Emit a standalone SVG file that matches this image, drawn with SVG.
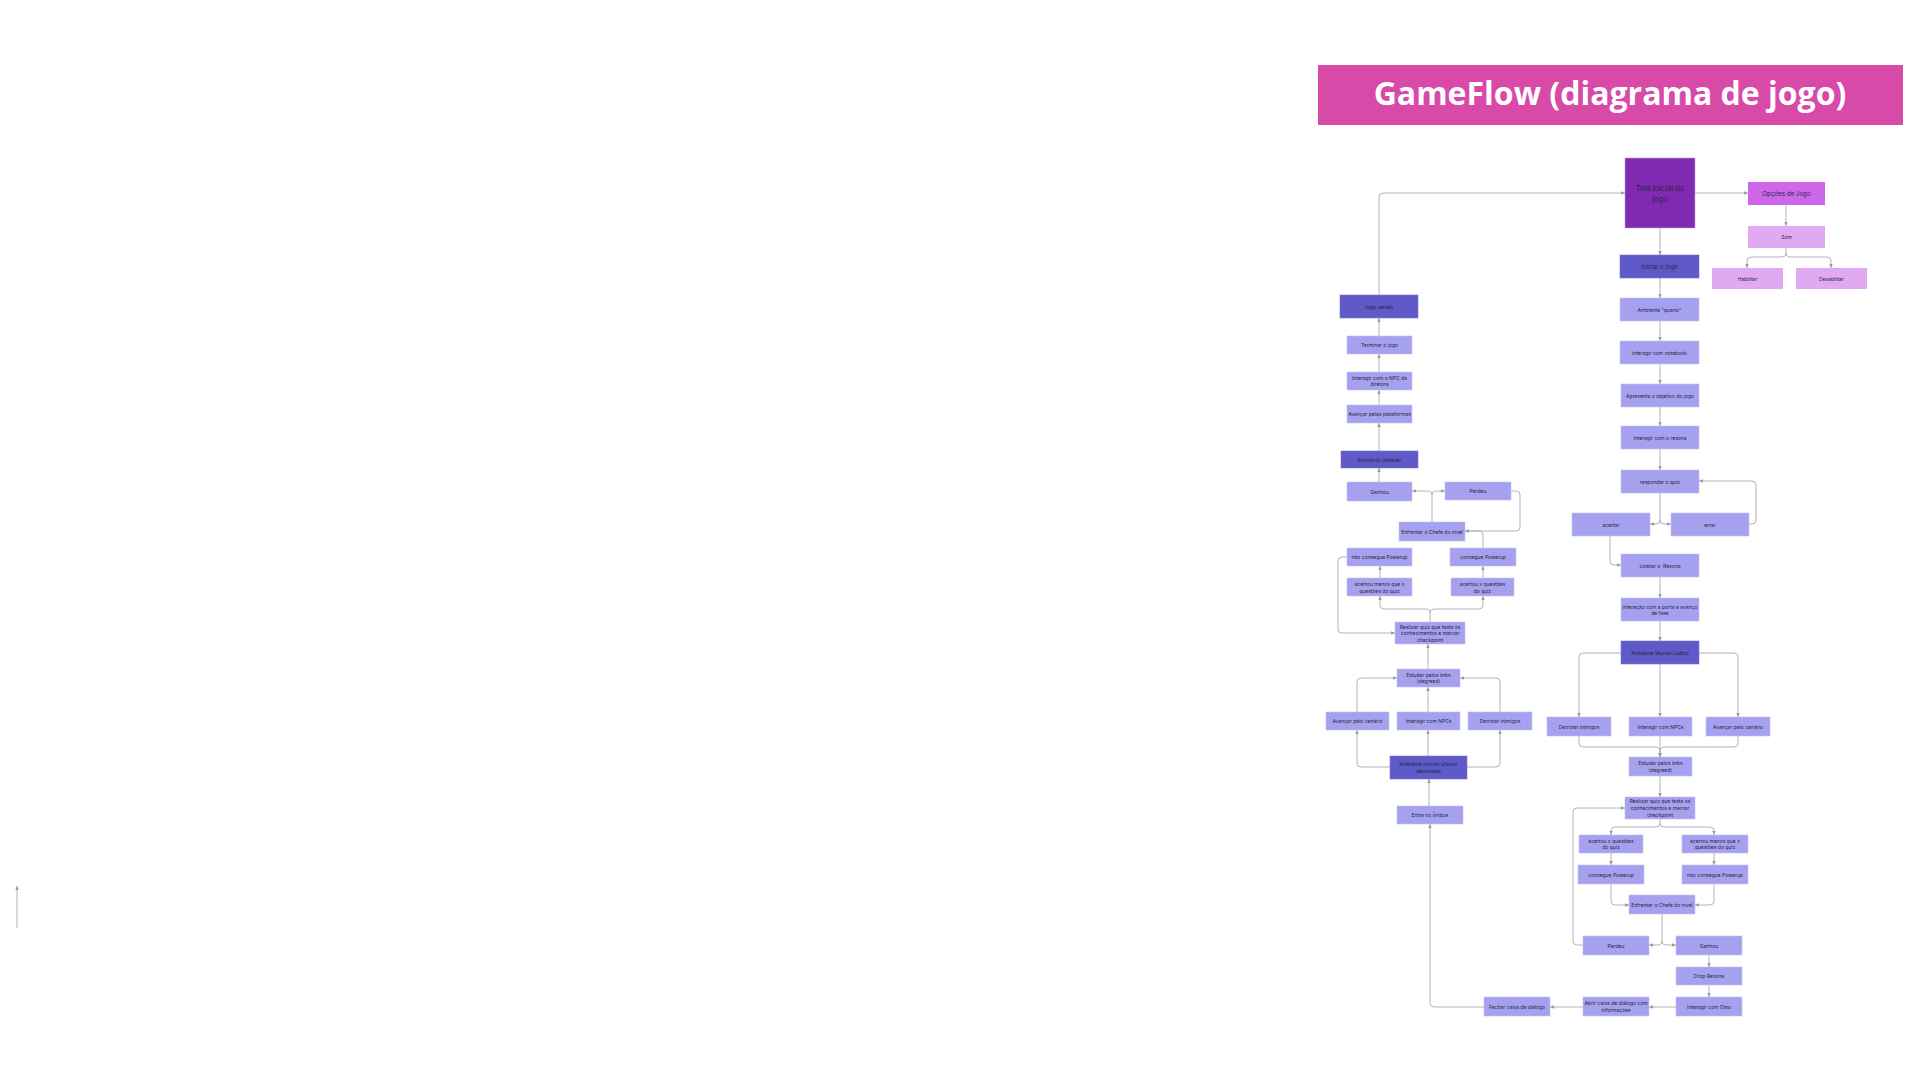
<svg xmlns="http://www.w3.org/2000/svg" width="1920" height="1080" viewBox="0 0 1920 1080">
<style>
text{font-family:Inter,"Liberation Sans",sans-serif;fill:#26263d;font-size:5px;text-anchor:middle;dominant-baseline:central}
.l{fill:#a6a1ef;stroke:#c3c0f6;stroke-width:0.6}
.d{fill:#5f5ac7;stroke:#7a76d4;stroke-width:0.6}
.p{fill:#7f2ab0;stroke:#c9a3e6;stroke-width:0.6}
.m{fill:#cd66e9}
.s{fill:#e2a9f3}
.c path{fill:none;stroke:#b4b4b4;stroke-width:1;marker-end:url(#ah)}
.title{font-family:"Open Sans","Noto Sans",sans-serif;font-weight:700;font-size:32px;fill:#ffffff;dominant-baseline:auto}
</style>
<defs>
<marker id="ah" viewBox="0 0 6 6" refX="6" refY="3" markerWidth="4" markerHeight="4" orient="auto" markerUnits="userSpaceOnUse"><path d="M0,0.5 L6,3 L0,5.5 z" fill="#9a9a9a"/></marker>
</defs>
<rect width="1920" height="1080" fill="#ffffff"/>
<g id="title"><rect x="1318" y="65" width="585" height="60" fill="#d84aa8"/><text class="title" x="1610" y="105">GameFlow (diagrama de jogo)</text></g>

<g class="c" id="connectors">
<path d="M17,928 V886"/>
<path d="M1379,295 V197 Q1379,193 1383,193 H1625"/>
<path d="M1379,336 V318"/>
<path d="M1379,372 V354"/>
<path d="M1379,405 V390"/>
<path d="M1379,451 V423"/>
<path d="M1379,482 V468"/>
<path d="M1432,522 V495 Q1432,491 1428,491 H1412"/>
<path d="M1432,495 Q1432,491 1436,491 H1445"/>
<path d="M1511,491 H1516 Q1520,491 1520,495 V527 Q1520,531 1516,531 H1465"/>
<path d="M1483,548 V535 Q1483,531 1479,531 H1465"/>
<path d="M1380,578 V566"/>
<path d="M1483,578 V566"/>
<path d="M1430,622 V613 Q1430,609 1426,609 H1384 Q1380,609 1380,605 V596"/>
<path d="M1430,613 Q1430,609 1434,609 H1479 Q1483,609 1483,605 V596"/>
<path d="M1347,557 H1342 Q1338,557 1338,561 V629 Q1338,633 1342,633 H1395"/>
<path d="M1428,669 V644"/>
<path d="M1357,712 V682 Q1357,678 1361,678 H1397"/>
<path d="M1500,712 V682 Q1500,678 1496,678 H1460"/>
<path d="M1428,712 V687"/>
<path d="M1390,767 H1361 Q1357,767 1357,763 V730"/>
<path d="M1467,767 H1496 Q1500,767 1500,763 V730"/>
<path d="M1428,756 V730"/>
<path d="M1429,806 V779"/>
<path d="M1484,1007 H1434 Q1430,1007 1430,1003 V824"/>
<path d="M1660,228 V255"/>
<path d="M1695,193 H1748"/>
<path d="M1786,205 V226"/>
<path d="M1786,248 V253 Q1786,257 1782,257 H1751 Q1747,257 1747,261 V268"/>
<path d="M1786,253 Q1786,257 1790,257 H1827 Q1831,257 1831,261 V268"/>
<path d="M1660,278 V298"/>
<path d="M1660,321 V341"/>
<path d="M1660,364 V384"/>
<path d="M1660,407 V426"/>
<path d="M1660,449 V470"/>
<path d="M1660,493 V520 Q1660,524 1656,524 H1650"/>
<path d="M1660,520 Q1660,524 1664,524 H1671"/>
<path d="M1749,524 H1752 Q1756,524 1756,520 V485 Q1756,481 1752,481 H1699"/>
<path d="M1610,536 V561 Q1610,565 1614,565 H1621"/>
<path d="M1660,577 V598"/>
<path d="M1660,621 V641"/>
<path d="M1621,653 H1583 Q1579,653 1579,657 V717"/>
<path d="M1699,653 H1734 Q1738,653 1738,657 V717"/>
<path d="M1660,664 V717"/>
<path d="M1579,736 V743 Q1579,747 1583,747 H1656 Q1660,747 1660,751 V757"/>
<path d="M1738,736 V743 Q1738,747 1734,747 H1664 Q1660,747 1660,751 V757"/>
<path d="M1660,736 V757"/>
<path d="M1660,776 V797"/>
<path d="M1660,819 V823 Q1660,827 1656,827 H1615 Q1611,827 1611,831 V835"/>
<path d="M1660,823 Q1660,827 1664,827 H1710 Q1714,827 1714,831 V835"/>
<path d="M1611,853 V865"/>
<path d="M1714,853 V865"/>
<path d="M1611,884 V901 Q1611,905 1615,905 H1629"/>
<path d="M1714,884 V901 Q1714,905 1710,905 H1695"/>
<path d="M1662,914 V941 Q1662,945 1658,945 H1649"/>
<path d="M1662,941 Q1662,945 1666,945 H1676"/>
<path d="M1583,945 H1577 Q1573,945 1573,941 V812 Q1573,808 1577,808 H1625"/>
<path d="M1709,955 V967"/>
<path d="M1709,985 V997"/>
<path d="M1676,1007 H1649"/>
<path d="M1583,1007 H1550"/>
</g>

<g id="jogo_zerado"><rect class="d" x="1340" y="295" width="78" height="23"/><text x="1379" y="306.5">Jogo zerado</text></g>
<g id="terminar"><rect class="l" x="1347" y="336" width="65" height="18"/><text x="1379.5" y="345">Terminar o jogo</text></g>
<g id="npc_diretora"><rect class="l" x="1347" y="372" width="65" height="18"/><text x="1379.5" y="378"><tspan x="1379.5">Interagir com o NPC da</tspan><tspan x="1379.5" dy="6">diretora</tspan></text></g>
<g id="avancar_plat"><rect class="l" x="1347" y="405" width="65" height="18"/><text x="1379.5" y="414">Avançar pelas plataformas</text></g>
<g id="escritorio"><rect class="d" x="1341" y="451" width="77" height="17"/><text x="1379.5" y="459.5">Escritório Unilever</text></g>
<g id="ganhou_l"><rect class="l" x="1347" y="482" width="65" height="19"/><text x="1379.5" y="491.5">Ganhou</text></g>
<g id="perdeu_l"><rect class="l" x="1445" y="482" width="66" height="18"/><text x="1478" y="491">Perdeu</text></g>
<g id="enfrentar_l"><rect class="l" x="1399" y="522" width="66" height="19"/><text x="1432" y="531.5">Enfrentar o Chefe do nível</text></g>
<g id="nao_power_l"><rect class="l" x="1347" y="548" width="65" height="18"/><text x="1379.5" y="557">não consegue Powerup</text></g>
<g id="power_l"><rect class="l" x="1450" y="548" width="66" height="18"/><text x="1483" y="557">consegue Powerup</text></g>
<g id="menos_l"><rect class="l" x="1347" y="578" width="65" height="18"/><text x="1379.5" y="584"><tspan x="1379.5">acertou menos que x</tspan><tspan x="1379.5" dy="6.5">questões do quiz</tspan></text></g>
<g id="acertou_l"><rect class="l" x="1451" y="578" width="63" height="18"/><text x="1482.5" y="584"><tspan x="1482.5">acertou x questões</tspan><tspan x="1482.5" dy="6.5">do quiz</tspan></text></g>
<g id="quiz_l"><rect class="l" x="1395" y="622" width="70" height="22"/><text x="1430" y="626.7"><tspan x="1430">Realizar quiz que testa os</tspan><tspan x="1430" dy="6.6">conhecimentos e marcar</tspan><tspan x="1430" dy="6.6">checkpoint</tspan></text></g>
<g id="estudar_l"><rect class="l" x="1397" y="669" width="63" height="18"/><text x="1428.5" y="675"><tspan x="1428.5">Estudar pelos links</tspan><tspan x="1428.5" dy="6.3">(degreed)</tspan></text></g>
<g id="avancar_cen_l"><rect class="l" x="1326" y="712" width="63" height="18"/><text x="1357.5" y="721">Avançar pelo cenário</text></g>
<g id="npcs_l"><rect class="l" x="1397" y="712" width="63" height="18"/><text x="1428.5" y="721">Interagir com NPCs</text></g>
<g id="derrotar_l"><rect class="l" x="1468" y="712" width="64" height="18"/><text x="1500" y="721">Derrotar inimigos</text></g>
<g id="urbano"><rect class="d" x="1390" y="756" width="77" height="23"/><text x="1428.5" y="764"><tspan x="1428.5">Ambiente mundo urbano</tspan><tspan x="1428.5" dy="7">devastado</tspan></text></g>
<g id="onibus"><rect class="l" x="1397" y="806" width="66" height="18"/><text x="1430" y="815">Entra no ônibus</text></g>

<g id="tela"><rect class="p" x="1625" y="158" width="70" height="70"/><text x="1660" y="188.3" style="font-size:7.5px"><tspan x="1660">Tela Inicial do</tspan><tspan x="1660" dy="11">jogo</tspan></text></g>
<g id="opcoes"><rect class="m" x="1748" y="182" width="77" height="23"/><text x="1786.5" y="193.5" style="font-size:6.2px">Opções de Jogo</text></g>
<g id="som"><rect class="s" x="1748" y="226" width="77" height="22"/><text x="1786.5" y="237">Som</text></g>
<g id="habilitar"><rect class="s" x="1712" y="268" width="71" height="21"/><text x="1747.5" y="278.5">Habilitar</text></g>
<g id="desabilitar"><rect class="s" x="1796" y="268" width="71" height="21"/><text x="1831.5" y="278.5">Desabilitar</text></g>
<g id="iniciar"><rect class="d" x="1620" y="255" width="79" height="23"/><text x="1659.5" y="266.5" style="font-size:6px">Iniciar o jogo</text></g>
<g id="quarto"><rect class="l" x="1620" y="298" width="79" height="23"/><text x="1659.5" y="309.5">Ambiente "quarto"</text></g>
<g id="notebook"><rect class="l" x="1620" y="341" width="79" height="23"/><text x="1659.5" y="352.5">interagir com notebook</text></g>
<g id="objetivo"><rect class="l" x="1621" y="384" width="78" height="23"/><text x="1660" y="395.5">Apresenta o objetivo do jogo</text></g>
<g id="resona"><rect class="l" x="1621" y="426" width="78" height="23"/><text x="1660" y="437.5">interagir com o resona</text></g>
<g id="responder"><rect class="l" x="1621" y="470" width="78" height="23"/><text x="1660" y="481.5">responder o quiz</text></g>
<g id="acertar"><rect class="l" x="1572" y="513" width="78" height="23"/><text x="1611" y="524.5">acertar</text></g>
<g id="errar"><rect class="l" x="1671" y="513" width="78" height="23"/><text x="1710" y="524.5">errar</text></g>
<g id="coletar"><rect class="l" x="1621" y="554" width="78" height="23"/><text x="1660" y="565.5">coletar o&#160; Resona</text></g>
<g id="porta"><rect class="l" x="1621" y="598" width="78" height="23"/><text x="1660" y="606.5"><tspan x="1660">Interação com a porta e avanço</tspan><tspan x="1660" dy="6">de fase</tspan></text></g>
<g id="ludico"><rect class="d" x="1621" y="641" width="78" height="23"/><text x="1660" y="652.5">Ambiente Mundo Lúdico</text></g>
<g id="derrotar_r"><rect class="l" x="1547" y="717" width="64" height="19"/><text x="1579" y="726.5">Derrotar inimigos</text></g>
<g id="npcs_r"><rect class="l" x="1629" y="717" width="63" height="19"/><text x="1660.5" y="726.5">Interagir com NPCs</text></g>
<g id="avancar_r"><rect class="l" x="1706" y="717" width="64" height="19"/><text x="1738" y="726.5">Avançar pelo cenário</text></g>
<g id="estudar_r"><rect class="l" x="1629" y="757" width="63" height="19"/><text x="1660.5" y="763.3"><tspan x="1660.5">Estudar pelos links</tspan><tspan x="1660.5" dy="6.3">(degreed)</tspan></text></g>
<g id="quiz_r"><rect class="l" x="1625" y="797" width="70" height="22"/><text x="1660" y="801.3"><tspan x="1660">Realizar quiz que testa os</tspan><tspan x="1660" dy="6.6">conhecimentos e marcar</tspan><tspan x="1660" dy="6.6">checkpoint</tspan></text></g>
<g id="acertou_r"><rect class="l" x="1579" y="835" width="64" height="18"/><text x="1611" y="840.7"><tspan x="1611">acertou x questões</tspan><tspan x="1611" dy="6.5">do quiz</tspan></text></g>
<g id="menos_r"><rect class="l" x="1682" y="835" width="66" height="18"/><text x="1715" y="840.7"><tspan x="1715">acertou menos que x</tspan><tspan x="1715" dy="6.5">questões do quiz</tspan></text></g>
<g id="power_r"><rect class="l" x="1578" y="865" width="66" height="19"/><text x="1611" y="874.5">consegue Powerup</text></g>
<g id="nao_power_r"><rect class="l" x="1682" y="865" width="66" height="19"/><text x="1715" y="874.5">não consegue Powerup</text></g>
<g id="enfrentar_r"><rect class="l" x="1629" y="895" width="66" height="19"/><text x="1662" y="904.5">Enfrentar o Chefe do nível</text></g>
<g id="perdeu_r"><rect class="l" x="1583" y="936" width="66" height="19"/><text x="1616" y="945.5">Perdeu</text></g>
<g id="ganhou_r"><rect class="l" x="1676" y="936" width="66" height="19"/><text x="1709" y="945.5">Ganhou</text></g>
<g id="drop"><rect class="l" x="1676" y="967" width="66" height="18"/><text x="1709" y="976">Drop Resona</text></g>
<g id="omo"><rect class="l" x="1676" y="997" width="66" height="19"/><text x="1709" y="1006.5">Interagir com Omo</text></g>
<g id="abrir"><rect class="l" x="1583" y="997" width="66" height="19"/><text x="1616" y="1003.2"><tspan x="1616">Abrir caixa de diálogo com</tspan><tspan x="1616" dy="6.5">informações</tspan></text></g>
<g id="fechar"><rect class="l" x="1484" y="997" width="66" height="19"/><text x="1517" y="1006.5">Fechar caixa de diálogo</text></g>
</svg>
